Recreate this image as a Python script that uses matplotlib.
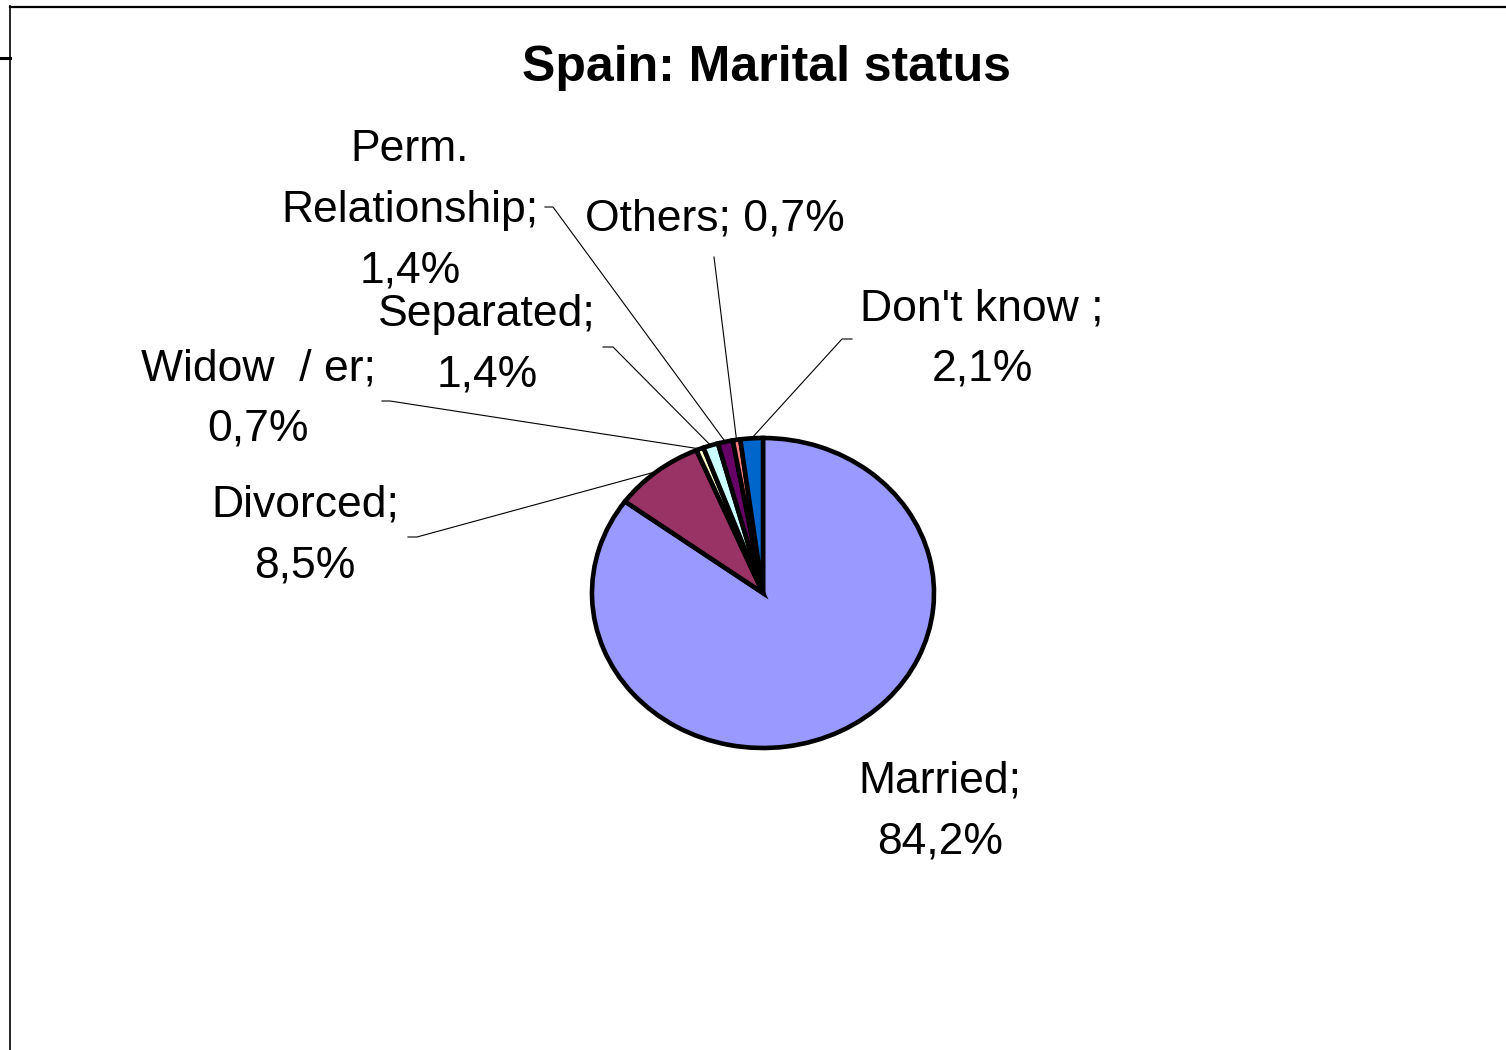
import matplotlib
matplotlib.use("Agg")
import numpy as np
import matplotlib.pyplot as plt

categories = ["Married", "Divorced", "Widow  / er", "Separated",
              "Perm.\nRelationship", "Others", "Don't know "]
values = [84.2, 8.5, 0.7, 1.4, 1.4, 0.7, 2.1]
colors = ["#9999FF", "#993366", "#FFFFCC", "#CCFFFF", "#660066", "#FF8080", "#0066CC"]
# what goes between the name and the value in each label
label_breaks = ["\n", "\n", "\n", "\n", "\n", " ", "\n"]

W, H = 1506, 1050
plt.rcParams['font.family'] = ['Liberation Sans', 'DejaVu Sans']
fig = plt.figure(figsize=(W / 100, H / 100), dpi=100)

# pie sits in its own axes, a bit flatter than round like the original
cx, cy, rx, ry = 763, 593, 171, 155
ax = fig.add_axes([(cx - rx) / W, 1 - (cy + ry) / H, 2 * rx / W, 2 * ry / H], zorder=2)
wedges, _ = ax.pie(values, colors=colors, startangle=90, counterclock=False,
                   wedgeprops=dict(edgecolor='black', linewidth=3.3))
for w in wedges:
    w.set_clip_on(False)
ax.set_aspect('auto')
ax.set_xlim(-1, 1)
ax.set_ylim(-1, 1)
ax.axis('off')

# overlay in pixel coords for title, labels, leader lines, frame
ov = fig.add_axes([0, 0, 1, 1], zorder=1)
ov.set_xlim(0, W)
ov.set_ylim(H, 0)
ov.axis('off')

ov.text(766, 81, "Spain: Marital status", ha='center', va='baseline',
        fontsize=36, fontweight='bold')

label_pos = [(940, 761), (305, 485), (258, 348), (487, 294),
             (410, 129), (715, 198), (982, 288)]
leader_start = [None, (408, 537, 9), (382, 401, 8), (603, 347, 10),
                (545, 207, 8), (714, 257, 0), (852, 339, -10)]

for i, w in enumerate(wedges):
    val = ("%.1f" % values[i]).replace('.', ',') + '%'
    txt = categories[i] + ";" + label_breaks[i] + val
    x, y = label_pos[i]
    ov.text(x, y, txt, ha='center', va='top', fontsize=32,
            linespacing=1.62, multialignment='center')
    if leader_start[i] is not None:
        x0, y0, dx = leader_start[i]
        th = np.radians((w.theta1 + w.theta2) / 2)
        ex, ey = ax.transData.transform((np.cos(th), np.sin(th)))
        ey = H - ey
        ov.plot([x0, x0 + dx, ex], [y0, y0, ey], color='black', lw=0.8)

# chart frame pieces
ov.plot([10, W], [6.5, 6.5], color='black', lw=1.6, clip_on=False)
ov.plot([10.5, 10.5], [6, H], color='black', lw=1.2, clip_on=False)
ov.plot([0, 10], [58, 58], color='black', lw=2.2, clip_on=False)

fig.savefig("out.png", dpi=100)
